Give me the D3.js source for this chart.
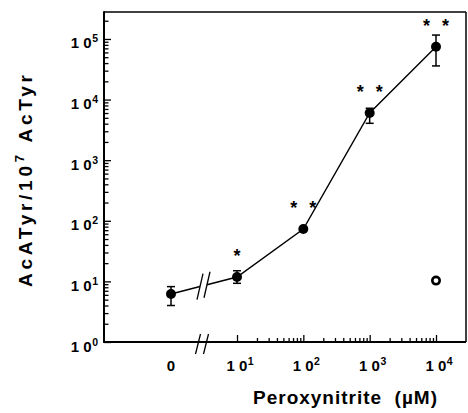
<!DOCTYPE html>
<html><head><meta charset="utf-8">
<script src="https://cdn.jsdelivr.net/npm/d3@7"></script>
<style>
body{margin:0;background:#fff}
text{font-family:"Liberation Sans",Arial,Helvetica,sans-serif;font-weight:bold;fill:#000}
</style>
</head><body>
<svg id="c" width="468" height="413"></svg>
<script>
// ---- data ----
const concentrations = [0, 10, 100, 1000, 10000];          // µM (0 = control on broken axis)
const means          = [6.2, 11.8, 73, 6000, 74600];
const errLow         = [4.0, 9.3, null, 4060, 35900];
const errHigh        = [8.2, 15.0, null, 7190, 116000];
const starCounts     = [0, 1, 2, 2, 2];
const openConc       = [10000];
const openValues     = [10.3];
const yTickValues    = [1, 10, 100, 1000, 10000, 100000];
const xTickValues    = [10, 100, 1000, 10000];
const zeroLabel      = "0";

// ---- layout ----
const L = 104, R = 466, T = 12, B = 342, X0 = 171;
const svg = d3.select("#c");

const y = d3.scaleLog().domain([1, Math.pow(10, 5.445)]).range([B, T]);
const x = d3.scaleLog().domain([10, 10000]).range([237, 436]);
const xp = c => c === 0 ? X0 : x(c);

// minor ticks
const yMinor = [];
for (let d = 1; d <= 1e5; d *= 10) for (let k = 2; k <= 9; k++) if (k * d <= y.domain()[1]) yMinor.push(k * d);
const xMinor = [];
for (let d = 10; d < 1e4; d *= 10) for (let k = 2; k <= 9; k++) xMinor.push(k * d);

// axes ticks
function styleAxis(g) { g.select(".domain").remove(); g.selectAll("line").attr("stroke", "#000").attr("stroke-width", 1.3); }
svg.append("g").attr("transform", `translate(${L},0)`)
  .call(d3.axisRight(y).tickValues(yTickValues).tickSize(7).tickFormat("")).call(styleAxis);
svg.append("g").attr("transform", `translate(${L},0)`)
  .call(d3.axisRight(y).tickValues(yMinor).tickSize(4.5).tickFormat("")).call(styleAxis);
svg.append("g").attr("transform", `translate(0,${B})`)
  .call(d3.axisTop(x).tickValues(xTickValues).tickSize(7).tickFormat("")).call(styleAxis);
svg.append("g").attr("transform", `translate(0,${B})`)
  .call(d3.axisTop(x).tickValues(xMinor).tickSize(4).tickFormat("")).call(styleAxis);

// frame
svg.append("line").attr("x1", L).attr("x2", R).attr("y1", T).attr("y2", T).attr("stroke", "#000").attr("stroke-width", 1.6);
svg.append("line").attr("x1", R).attr("x2", R).attr("y1", T).attr("y2", B).attr("stroke", "#000").attr("stroke-width", 1.5);
svg.append("line").attr("x1", L).attr("x2", L).attr("y1", T - 0.8).attr("y2", B + 1).attr("stroke", "#000").attr("stroke-width", 2);
svg.append("line").attr("x1", L).attr("x2", R).attr("y1", B).attr("y2", B).attr("stroke", "#000").attr("stroke-width", 2);

// axis break slashes
[198, 206].forEach(cx => {
  svg.append("line").attr("x1", cx - 2.5).attr("y1", B + 12).attr("x2", cx + 2.5).attr("y2", B - 8)
    .attr("stroke", "#000").attr("stroke-width", 1.3);
});

// tick label helper: "1 0" + superscript exponent
function powLabel(t, v) {
  t.append("tspan").text("1\u00a00");
  t.append("tspan").attr("font-size", 10.5).attr("dy", -6).attr("dx", 0.5).text(Math.round(Math.log10(v)));
}
// y tick labels
yTickValues.forEach(v => {
  const t = svg.append("text").attr("x", 98).attr("y", y(v) + 9.5).attr("text-anchor", "end").attr("font-size", 15);
  powLabel(t, v);
});
// x tick labels
svg.append("text").attr("x", X0).attr("y", 371).attr("text-anchor", "middle").attr("font-size", 15).text(zeroLabel);
xTickValues.forEach(v => {
  const t = svg.append("text").attr("x", x(v) + 3).attr("y", 371).attr("text-anchor", "middle").attr("font-size", 15);
  powLabel(t, v);
});

// axis titles
svg.append("text").attr("x", 345).attr("y", 404).attr("text-anchor", "middle").attr("font-size", 19)
  .attr("textLength", 184).attr("lengthAdjust", "spacing").text("Peroxynitrite\u00a0\u00a0(\u00b5M)");
const yt = svg.append("text").attr("transform", "translate(32,181) rotate(-90)").attr("text-anchor", "middle")
  .attr("font-size", 19).attr("textLength", 212).attr("lengthAdjust", "spacing");
yt.append("tspan").text("AcATyr/10");
yt.append("tspan").attr("font-size", 13).attr("dy", -8).text("7");
yt.append("tspan").attr("dy", 8).text("\u00a0AcTyr");

// data line with break
const pts = concentrations.map((c, i) => [xp(c), y(means[i])]);
const p0 = pts[0], p1 = pts[1];
const lerp = (xx) => [xx, p0[1] + (p1[1] - p0[1]) * (xx - p0[0]) / (p1[0] - p0[0])];
const line = d3.line();
svg.append("path").attr("d", line([p0, lerp(200)])).attr("fill", "none").attr("stroke", "#000").attr("stroke-width", 1.4);
svg.append("path").attr("d", line([lerp(207), ...pts.slice(1)])).attr("fill", "none").attr("stroke", "#000").attr("stroke-width", 1.4);
[200, 207].forEach(cx => {
  const c = lerp(cx);
  svg.append("line").attr("x1", c[0] - 3).attr("y1", c[1] + 13).attr("x2", c[0] + 3).attr("y2", c[1] - 13)
    .attr("stroke", "#000").attr("stroke-width", 1.3);
});

// error bars
concentrations.forEach((c, i) => {
  if (errLow[i] == null) return;
  const cx = xp(c), y1 = y(errLow[i]), y2 = y(errHigh[i]);
  const g = svg.append("g").attr("stroke", "#000").attr("stroke-width", 1.5);
  g.append("line").attr("x1", cx).attr("x2", cx).attr("y1", y1).attr("y2", y2);
  g.append("line").attr("x1", cx - 4).attr("x2", cx + 4).attr("y1", y1).attr("y2", y1);
  g.append("line").attr("x1", cx - 4).attr("x2", cx + 4).attr("y1", y2).attr("y2", y2);
});

// points
svg.selectAll("circle.pt").data(concentrations).join("circle").attr("class", "pt")
  .attr("cx", (c) => xp(c)).attr("cy", (c, i) => y(means[i])).attr("r", 5).attr("fill", "#000");
svg.selectAll("circle.open").data(openConc).join("circle").attr("class", "open")
  .attr("cx", c => x(c)).attr("cy", (c, i) => y(openValues[i])).attr("r", 3.7)
  .attr("fill", "#fff").attr("stroke", "#000").attr("stroke-width", 2.6);

// significance stars
concentrations.forEach((c, i) => {
  const n = starCounts[i]; if (!n) return;
  const cx = xp(c), cy = y(means[i]) - 25;
  const offs = n === 1 ? [0] : [-9.5, 9.5];
  offs.forEach(o => svg.append("text").attr("x", cx + o).attr("y", cy + 10).attr("text-anchor", "middle")
    .attr("font-size", 18).text("*"));
});
</script>
</body></html>
